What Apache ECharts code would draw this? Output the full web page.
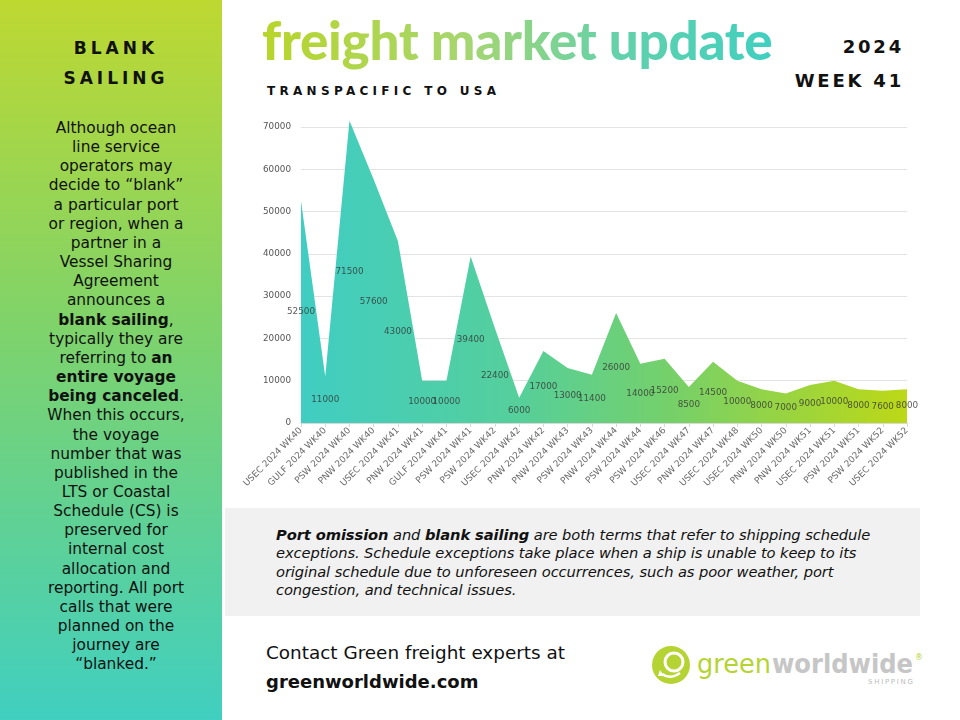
<!DOCTYPE html>
<html>
<head>
<meta charset="utf-8">
<script src="https://cdn.jsdelivr.net/npm/echarts/dist/echarts.min.js"></script>
<style>
  html,body{margin:0;padding:0;}
  body{width:960px;height:720px;position:relative;overflow:hidden;background:#fff;font-family:"DejaVu Sans",sans-serif;}
  #left{position:absolute;left:0;top:0;width:222px;height:720px;background:linear-gradient(180deg,#bed831 0%,#7fd36a 45%,#40cfc0 100%);}
  #left .h{position:absolute;left:0;width:232px;text-align:center;font-weight:bold;font-size:17px;letter-spacing:4px;color:#111;}
  #left .body{position:absolute;left:0;top:119px;width:232px;text-align:center;font-size:15.4px;line-height:19.15px;color:#111;}
  #title{position:absolute;left:262px;top:8px;font-family:Lato,sans-serif;font-weight:900;font-size:53px;letter-spacing:-0.3px;background:linear-gradient(90deg,#b8d52a 0%,#a6d670 40%,#62d1ab 70%,#40cfc0 100%);-webkit-background-clip:text;background-clip:text;color:transparent;line-height:64px;}
  .yr{position:absolute;right:56px;font-weight:bold;font-size:18px;letter-spacing:2.8px;color:#111;}
  #sub{position:absolute;left:267px;top:84px;font-weight:bold;font-size:12px;letter-spacing:4.3px;color:#111;}
  #chart{position:absolute;left:225px;top:100px;width:735px;height:405px;}
  #box{position:absolute;left:225px;top:508px;width:695px;height:108px;background:#f1f1f1;}
  #box p{position:absolute;left:51px;top:18px;margin:0;font-family:"DejaVu Sans",sans-serif;font-style:italic;font-size:14.7px;line-height:18.3px;color:#111;letter-spacing:-0.1px;}
  #contact{position:absolute;left:266px;top:638px;font-size:18.4px;line-height:29px;color:#111;}
  #contact b{font-size:18px;}
  #logo{position:absolute;left:648px;top:640px;}
</style>
</head>
<body>
<div id="left">
  <div class="h" style="top:38px">BLANK</div>
  <div class="h" style="top:68px">SAILING</div>
  <div class="body">Although ocean<br>line service<br>operators may<br>decide to “blank”<br>a particular port<br>or region, when a<br>partner in a<br>Vessel Sharing<br>Agreement<br>announces a<br><b>blank sailing</b>,<br>typically they are<br>referring to <b>an</b><br><b>entire voyage</b><br><b>being canceled</b>.<br>When this occurs,<br>the voyage<br>number that was<br>published in the<br>LTS or Coastal<br>Schedule (CS) is<br>preserved for<br>internal cost<br>allocation and<br>reporting. All port<br>calls that were<br>planned on the<br>journey are<br>“blanked.”</div>
</div>
<div id="title">freight market update</div>
<div class="yr" style="top:36px">2024</div>
<div class="yr" style="top:70px">WEEK 41</div>
<div id="sub">TRANSPACIFIC TO USA</div>
<div id="chart"></div>
<div id="box"><p><b>Port omission</b> and <b>blank sailing</b> are both terms that refer to shipping schedule<br>exceptions. Schedule exceptions take place when a ship is unable to keep to its<br>original schedule due to unforeseen occurrences, such as poor weather, port<br>congestion, and technical issues.</p></div>
<div id="contact">Contact Green freight experts at<br><b>greenworldwide.com</b></div>
<div id="logo">
<svg width="290" height="50" xmlns="http://www.w3.org/2000/svg">
  <circle cx="23" cy="25" r="19" fill="#b6d334"/>
  <circle cx="26" cy="22" r="9" fill="none" stroke="#fff" stroke-width="3"/>
  <path d="M14 34 Q22 40 32 33" fill="none" stroke="#fff" stroke-width="2.5"/>
  <path d="M12 30 l4 6 l-6 0 z" fill="#fff"/>
  <text x="49" y="33" font-family="DejaVu Sans" font-size="26" fill="#b6d334" textLength="74" lengthAdjust="spacingAndGlyphs">green</text>
  <text x="124" y="33" font-family="DejaVu Sans" font-weight="bold" font-size="26" fill="#c6c6c6" textLength="141" lengthAdjust="spacingAndGlyphs">worldwide</text>
  <text x="267" y="20" font-family="DejaVu Sans" font-size="8" fill="#b6d334">®</text>
  <text x="220" y="44" font-family="DejaVu Sans" font-size="7" fill="#bbb" textLength="45" lengthAdjust="spacing">SHIPPING</text>
</svg>
</div>
<script>
const categories = ["USEC 2024 WK40","GULF 2024 WK40","PSW 2024 WK40","PNW 2024 WK40","USEC 2024 WK41","PNW 2024 WK41","GULF 2024 WK41","PSW 2024 WK41","PSW 2024 WK42","USEC 2024 WK42","PNW 2024 WK42","PNW 2024 WK43","PSW 2024 WK43","PNW 2024 WK44","PSW 2024 WK44","PSW 2024 WK46","USEC 2024 WK47","PNW 2024 WK47","USEC 2024 WK48","USEC 2024 WK50","PNW 2024 WK50","PNW 2024 WK51","USEC 2024 WK51","PSW 2024 WK51","PSW 2024 WK52","USEC 2024 WK52"];
const values = [52500,11000,71500,57600,43000,10000,10000,39400,22400,6000,17000,13000,11400,26000,14000,15200,8500,14500,10000,8000,7000,9000,10000,8000,7600,8000];
const yTicks = [0,10000,20000,30000,40000,50000,60000,70000];

const chart = echarts.init(document.getElementById('chart'), null, {renderer:'canvas'});
const areaGrad = new echarts.graphic.LinearGradient(0,0,1,0,[
  {offset:0,color:'#40cdc2'},{offset:0.35,color:'#55cf9c'},{offset:0.6,color:'#74d06c'},{offset:1,color:'#bdd816'}
]);
chart.setOption({
  animation:false,
  grid:{left:76,right:53,top:27,bottom:82},
  xAxis:{type:'category',data:categories,boundaryGap:false,
    axisLine:{show:true,lineStyle:{color:'#d9d9d9'}},
    axisTick:{show:true,lineStyle:{color:'#d9d9d9'},length:4},
    axisLabel:{rotate:45,fontSize:9,color:'#6b6b6b',interval:0,margin:6,fontFamily:'DejaVu Sans'}},
  yAxis:{type:'value',min:yTicks[0],max:yTicks[yTicks.length-1],interval:10000,
    axisLine:{show:false},axisTick:{show:false},
    splitLine:{lineStyle:{color:'#e3e3e3'}},
    axisLabel:{fontSize:8.8,color:'#555',margin:10,fontFamily:'DejaVu Sans',formatter:v=>String(v)}},
  series:[
    {type:'line',data:values,clip:false,symbol:'none',lineStyle:{width:0},
      areaStyle:{color:areaGrad,opacity:1},z:2},
    {type:'scatter',data:values.map(v=>v/2),symbolSize:1,itemStyle:{color:'rgba(0,0,0,0)'},z:5,
      labelLayout:{hideOverlap:false},
      label:{show:true,position:'inside',fontSize:8.8,color:'#333',fontFamily:'DejaVu Sans',
        formatter:p=>String(values[p.dataIndex])}}
  ]
});
</script>
</body>
</html>
